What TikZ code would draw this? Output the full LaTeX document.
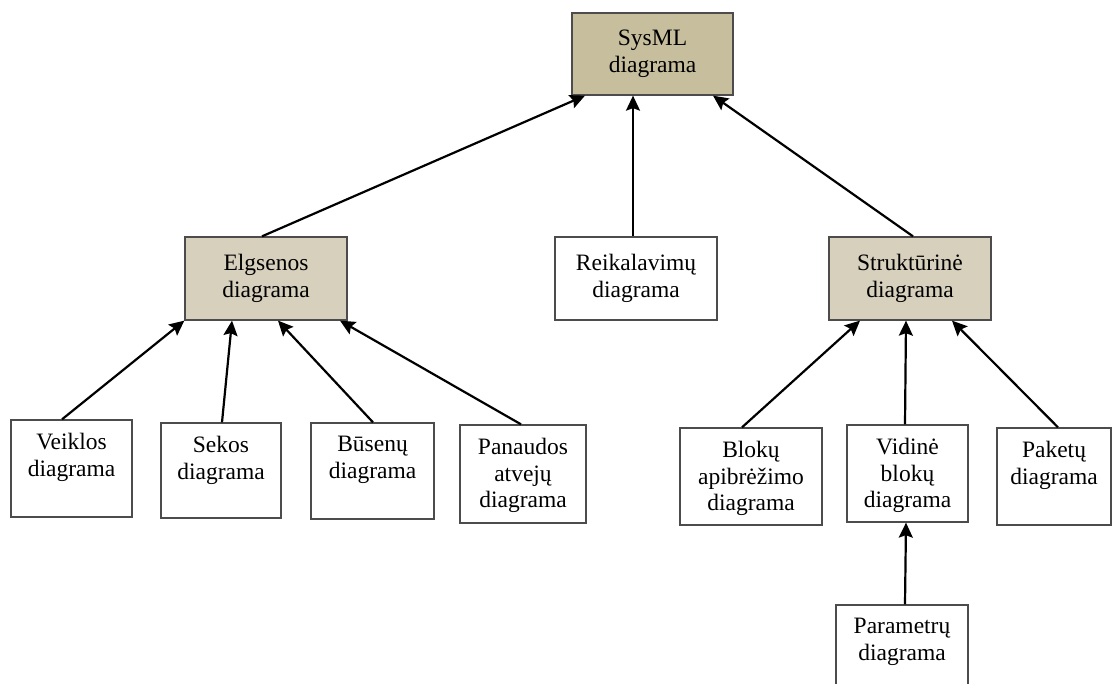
\documentclass[tikz,border=0pt]{standalone}
\usepackage{fontspec}
\setmainfont{Liberation Serif}
\usetikzlibrary{arrows.meta}
\newcommand{\diagfont}{\fontsize{23.5}{26.5}\selectfont}
\definecolor{tanDark}{RGB}{198,190,156}
\definecolor{tanLight}{RGB}{214,208,188}
\begin{document}
\begin{tikzpicture}[x=1pt,y=1pt,
  box/.style={draw=black!70, line width=1.3pt, fill=white, inner sep=0pt},
  sz/.style 2 args={minimum width=#1pt, minimum height=#2pt},
  mid/.style={font=\diagfont, align=center},
  toptext/.style={label={[anchor=north, yshift=-14pt, inner sep=0pt, align=center, font=\diagfont]north:#1}},
  arr/.style={line width=2.2pt, -{Stealth[length=15pt, width=14pt, inset=2.5pt]}}]
\clip (0,0) rectangle (1113,684);

% top level
\node[box, fill=tanDark, sz={161}{82}, mid] (sys) at (652.5,630) {SysML\\diagrama};

% second level
\node[box, fill=tanLight, sz={162}{83}, mid] (elg) at (266,405.5) {Elgsenos\\diagrama};
\node[box, sz={162}{83}, mid] (rei) at (636,405.5) {Reikalavimų\\diagrama};
\node[box, fill=tanLight, sz={162}{83}, mid] (str) at (910,405.5) {Struktūrinė\\diagrama};

% behaviour diagrams
\node[box, sz={121}{97}, toptext={Veiklos\\diagrama}] (veik) at (71.5,215.5) {};
\node[box, sz={120}{95}, toptext={Sekos\\diagrama}] (sek) at (221,213.5) {};
\node[box, sz={123}{96}, toptext={Būsenų\\diagrama}] (bus) at (372.5,213) {};
\node[box, sz={126}{98}, toptext={Panaudos\\atvejų\\diagrama}] (pan) at (523,210) {};

% structure diagrams
\node[box, sz={142}{97}, toptext={Blokų\\apibrėžimo\\diagrama}] (blk) at (751,207.5) {};
\node[box, sz={121}{97}, toptext={Vidinė\\blokų\\diagrama}] (vid) at (907.5,210.5) {};
\node[box, sz={114}{97}, toptext={Paketų\\diagrama}] (pak) at (1054,207.5) {};
\node[box, sz={132}{90}, toptext={Parametrų\\diagrama}] (par) at (902,34) {};

% generalisation arrows
\draw[arr] ([xshift=-4pt]elg.north) -- ([xshift=-67.5pt]sys.south);
\draw[arr] ([xshift=-3pt]rei.north) -- ([xshift=-19.5pt]sys.south);
\draw[arr] ([xshift=3pt]str.north) -- ([xshift=60.5pt]sys.south);

\draw[arr] ([xshift=-9.5pt]veik.north) -- (elg.south west);
\draw[arr] ([xshift=1pt]sek.north) -- ([xshift=-34pt]elg.south);
\draw[arr] ([xshift=0.5pt]bus.north) -- ([xshift=12pt]elg.south);
\draw[arr] ([xshift=-2pt]pan.north) -- ([xshift=74pt]elg.south);

\draw[arr] ([xshift=-9pt]blk.north) -- ([xshift=-50pt]str.south);
\draw[arr] ([xshift=-2.5pt]vid.north) -- ([xshift=-4pt]str.south);
\draw[arr] ([xshift=4pt]pak.north) -- ([xshift=42pt]str.south);

\draw[arr] ([xshift=3pt]par.north) -- ([xshift=-1.5pt]vid.south);
\end{tikzpicture}
\end{document}
